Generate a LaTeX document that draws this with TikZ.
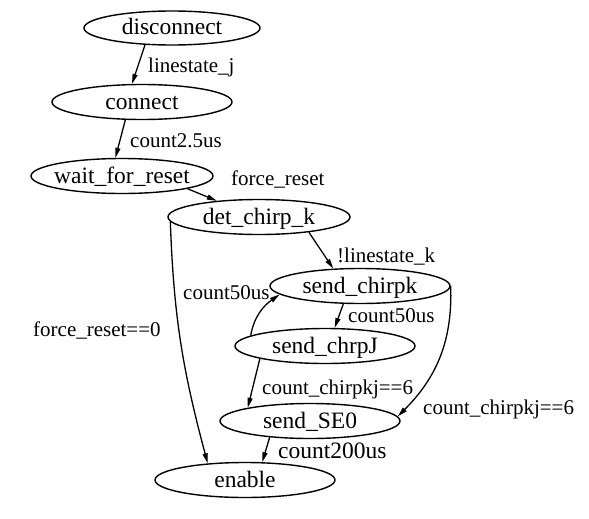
\documentclass[tikz,border=0pt]{standalone}
\usepackage{fontspec}
\setmainfont{Liberation Serif}
\newfontfamily\tnr{Liberation Serif}
\usetikzlibrary{shapes.geometric,arrows.meta}
\tikzset{
  st/.style={draw, line width=1.4pt, ellipse, inner sep=0pt, minimum width=180pt, minimum height=35pt},
  sttext/.style={anchor=base, inner sep=0pt, font=\tnr\fontsize{23.5}{26}\selectfont},
  lbl/.style={anchor=base west, inner sep=0pt, font=\tnr\fontsize{21}{24}\selectfont},
  biglbl/.style={anchor=base west, inner sep=0pt, font=\tnr\fontsize{23.5}{26}\selectfont},
  arr/.style={line width=1.3pt, -{Triangle[length=10pt,width=5pt]}}
}
\begin{document}
\begin{tikzpicture}[x=1pt,y=1pt]
\useasboundingbox[fill=white] (0,0) rectangle (589,-519);
% states
\node[st, minimum width=176pt, minimum height=34pt] (dis) at (172,-28) {};
\node[st] (con) at (142,-102) {};
\node[st, minimum width=182pt] (wfr) at (122,-176) {};
\node[st, minimum width=182pt] (det) at (259,-217) {};
\node[st] (sck) at (360,-286) {};
\node[st] (scj) at (325,-346) {};
\node[st] (se0) at (310,-421) {};
\node[st] (en) at (245,-480) {};
% state texts
\node[sttext] (dis-t) at (172,-35) {disconnect};
\node[sttext] (con-t) at (142,-109) {connect};
\node[sttext] (wfr-t) at (122,-183) {wait\_for\_reset};
\node[sttext] (det-t) at (259,-224) {det\_chirp\_k};
\node[sttext] (sck-t) at (360,-293) {send\_chirpk};
\node[sttext] (scj-t) at (325,-353) {send\_chrpJ};
\node[sttext] (se0-t) at (310,-428) {send\_SE0};
\node[sttext] (en-t) at (245,-487) {enable};
% transitions
\draw[arr] (dis.212) -- (con.119);
\draw[arr] (con.227) -- (wfr.110);
\draw[arr] (wfr.349) -- (det.159);
\draw[arr] (det.343) -- (sck.147);
\draw[arr] (sck.227) -- (scj.62);
\draw[arr] (scj.172) to[out=80,in=215] (sck.186);
\draw[arr] (scj.191) -- (se0.168);
\draw[arr] (sck.0) to[out=-88,in=45] (se0.3);
\draw[arr] (det.183) to[out=-88,in=105] (en.156);
\draw[arr] (se0.202) -- (en.46);
% labels
\node[lbl] (l1) at (148,-73) {linestate\_j};
\node[lbl] (l2) at (130,-147) {count2.5us};
\node[lbl] (l3) at (231,-185) {force\_reset};
\node[lbl] (l4) at (337,-262) {!linestate\_k};
\node[lbl] (l5) at (348,-322) {count50us};
\node[lbl] (l6) at (183,-299) {count50us};
\node[lbl] (l7) at (33,-336) {force\_reset==0};
\node[lbl] (l8) at (262,-394) {count\_chirpkj==6};
\node[lbl] (l9) at (423,-414) {count\_chirpkj==6};
\node[biglbl] (l10) at (278,-458) {count200us};
\end{tikzpicture}
\end{document}
